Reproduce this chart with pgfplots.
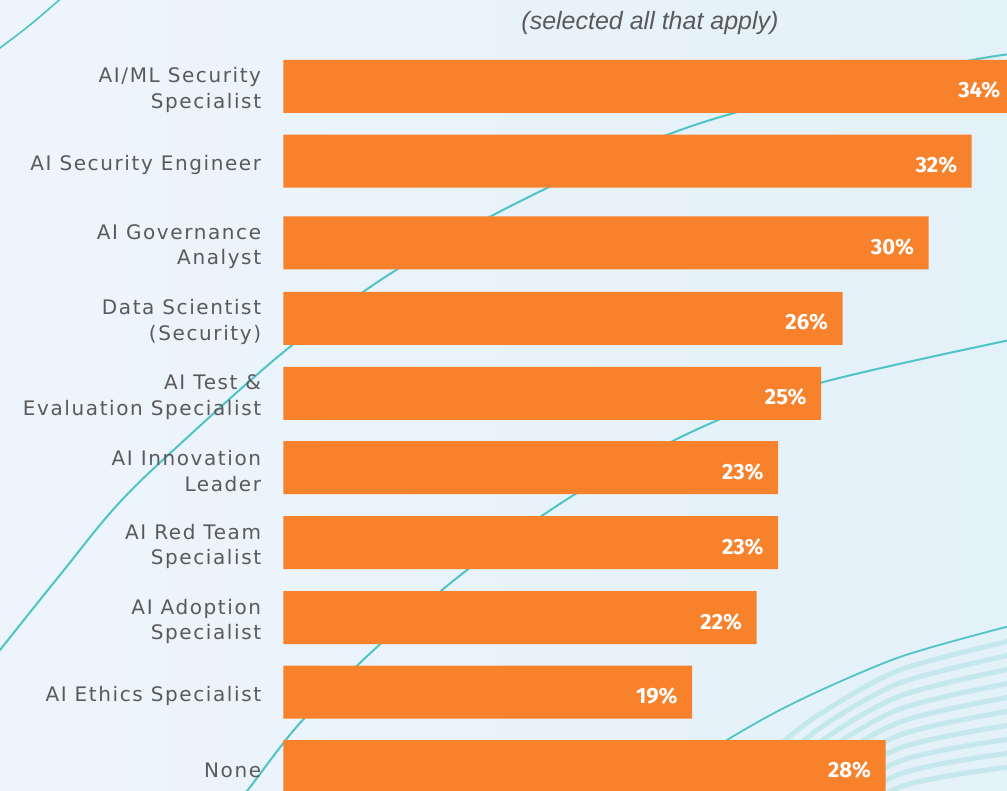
\documentclass[border=0pt]{standalone}
\usepackage{fontspec}
\usepackage{pgfplots}
\pgfplotsset{compat=1.18}
\setmainfont{DejaVu Sans}
\newfontfamily\labfont[LetterSpace=8]{DejaVu Sans}
\newfontfamily\valfont{Fira Sans}
\newfontfamily\titfont{Liberation Sans}
\definecolor{bgA}{HTML}{EEF4FC}
\definecolor{bgB}{HTML}{E3F1F9}
\definecolor{barc}{HTML}{F8822B}
\definecolor{labc}{HTML}{5A5A5A}
\definecolor{curvec}{HTML}{4FC4C6}
\definecolor{stripec}{HTML}{C4E8EE}
\tikzset{lbl/.style={anchor=east, align=right, xshift=-11pt, yshift=-1.8pt, font=\labfont\fontsize{10}{12.8}\selectfont, text=labc, inner sep=0pt}}
\begin{document}
\begin{tikzpicture}
\begin{scope}[x=0.5pt,y=-0.5pt,shift={(-141.75pt,395.5pt)}]
\shade[left color=bgA, right color=bgB] (0,0) rectangle (1007,791);
\begin{scope}
\clip (0,0) rectangle (1007,791);
% decorative stripes bottom right
\foreach \k in {1,...,10}{
  \draw[stripec, line width=2.5pt, line cap=round] plot[smooth] coordinates {({760+\k*8},{740+\k*14}) (820,{700+\k*14}) (900,{657+\k*13}) (1010,{627+\k*14})};
}
\draw[curvec, line width=0.9pt] plot[smooth] coordinates {(600,820) (727,740) (800,700) (900,657) (1010,626)};
% big arc
\draw[curvec, line width=1pt] plot[smooth] coordinates {(225,815) (247,791) (300,723) (377,647) (467,570) (577,493) (700,428) (820,383) (1010,340)};
% second arc
\draw[curvec, line width=1pt] plot[smooth, tension=0.6] coordinates {(-10,663) (0,650) (60,575) (120,502) (190,435) (280,355) (363,292) (440,244) (547,188) (667,135) (760,106) (860,83) (967,61) (1010,54)};
% top-left line
\draw[curvec, line width=0.8pt] plot[smooth] coordinates {(-5,52) (0,48) (30,25) (65,-5)};
\end{scope}
\node[font=\titfont\itshape\fontsize{12.5}{14}\selectfont, text=labc] at (650,23) {(selected all that apply)};
\end{scope}
\begin{axis}[
  at={(0,0)}, anchor=south west,
  width=361.75pt, height=395.5pt, scale only axis,
  xmin=0, xmax=33.65, ymin=0, ymax=791, y dir=reverse,
  xbar, bar width=53,
  axis line style={draw=none},
  xtick=\empty, ytick=\empty,
  clip=false,
  point meta=x,
  nodes near coords={\pgfmathprintnumber{\pgfplotspointmeta}\%},
  nodes near coords style={anchor=east, xshift=-7pt, yshift=-2pt, font=\valfont\bfseries\fontsize{11}{11}\selectfont, text=white, inner sep=0pt, /pgf/number format/assume math mode=true},
]
\addplot[fill=barc, draw=none] coordinates {(34,86.5) (32,161.2) (30,243) (26,318.3) (25,393.3) (23,467.7) (23,542.7) (22,617.7) (19,692) (28,766.5)};
\node[lbl] at (axis cs:0,86.5) {AI/ML Security\\Specialist};
\node[lbl] at (axis cs:0,161.2) {AI Security Engineer};
\node[lbl] at (axis cs:0,243) {AI Governance\\Analyst};
\node[lbl] at (axis cs:0,318.3) {Data Scientist\\(Security)};
\node[lbl] at (axis cs:0,393.3) {AI Test \&\\Evaluation Specialist};
\node[lbl] at (axis cs:0,467.7) {AI Innovation\\Leader};
\node[lbl] at (axis cs:0,542.7) {AI Red Team\\Specialist};
\node[lbl] at (axis cs:0,617.7) {AI Adoption\\Specialist};
\node[lbl] at (axis cs:0,692) {AI Ethics Specialist};
\node[lbl] at (axis cs:0,766.5) {None};
\end{axis}
\pgfresetboundingbox
\path (-141.75pt,0) rectangle (361.75pt,395.5pt);
\end{tikzpicture}
\end{document}
